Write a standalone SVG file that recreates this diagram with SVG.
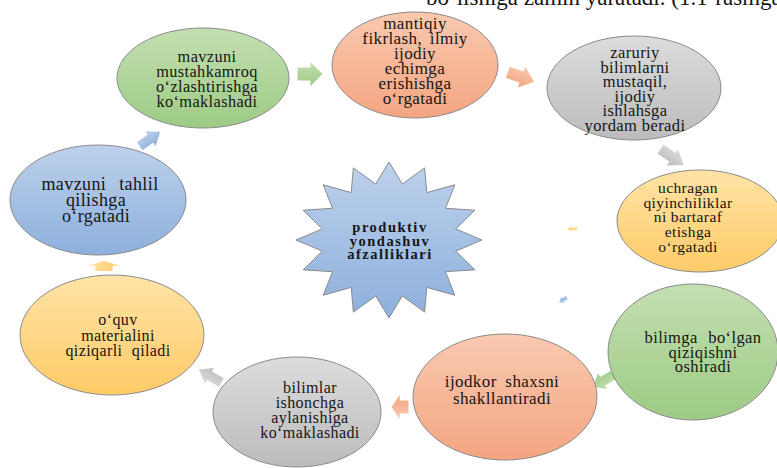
<svg xmlns="http://www.w3.org/2000/svg" width="777" height="468" viewBox="0 0 777 468">
<defs>
<linearGradient id="gGreen" x1="0" y1="0" x2="0" y2="1"><stop offset="0" stop-color="#c3dfb1"/><stop offset="1" stop-color="#9dcb85"/></linearGradient>
<linearGradient id="gSalmon" x1="0" y1="0" x2="0" y2="1"><stop offset="0" stop-color="#f9c9b0"/><stop offset="1" stop-color="#f4a581"/></linearGradient>
<linearGradient id="gGray" x1="0" y1="0" x2="0" y2="1"><stop offset="0" stop-color="#dcdcdc"/><stop offset="1" stop-color="#bcbcbc"/></linearGradient>
<linearGradient id="gYellow" x1="0" y1="0" x2="0" y2="1"><stop offset="0" stop-color="#ffe3a6"/><stop offset="1" stop-color="#ffcb68"/></linearGradient>
<linearGradient id="gBlue" x1="0" y1="0" x2="0" y2="1"><stop offset="0" stop-color="#bdd1ec"/><stop offset="1" stop-color="#8db0dc"/></linearGradient>
<path id="arr" d="M-0.5,-0.27 H0.02 V-0.5 L0.5,0 L0.02,0.5 V0.27 H-0.5 Z"/>
</defs>
<style>
.e{stroke:#8a8a8a;stroke-width:1}
.t{font-family:"Liberation Serif","Times New Roman",serif;font-size:16px;letter-spacing:0.4px;text-anchor:middle;fill:#151515}
.b{font-family:"Liberation Serif","Times New Roman",serif;font-size:14.5px;font-weight:bold;letter-spacing:1.5px;text-anchor:middle;fill:#151515}
.top{font-family:"Liberation Serif","Times New Roman",serif;font-size:23px;fill:#151515}
</style>

<text class="top" x="426" y="5">bo‘lishiga zamin yaratadi. (1.1-rasmga</text>

<g id="connectors">
<use href="#arr" fill="url(#gGreen)" transform="translate(310,74) scale(25,24)"/>
<use href="#arr" fill="url(#gSalmon)" transform="translate(521,77) rotate(20) scale(28,22)"/>
<use href="#arr" fill="url(#gGray)" transform="translate(672,157) rotate(35) scale(28,20)"/>
<use href="#arr" fill="url(#gYellow)" transform="translate(572,229) rotate(180) scale(10,5)"/>
<use href="#arr" fill="url(#gBlue)" transform="translate(563,300) rotate(150) scale(9,7)"/>
<use href="#arr" fill="url(#gGreen)" transform="translate(603,381) rotate(150) scale(24,18)"/>
<use href="#arr" fill="url(#gSalmon)" transform="translate(400,407) rotate(180) scale(17,24)"/>
<use href="#arr" fill="url(#gGray)" transform="translate(210,376) rotate(210) scale(26,18)"/>
<use href="#arr" fill="url(#gYellow)" transform="translate(104,266) rotate(-90) scale(10,32)"/>
<use href="#arr" fill="url(#gBlue)" transform="translate(150,139) rotate(-35) scale(25,18)"/>
</g>

<g id="n1">
<ellipse class="e" cx="203" cy="78" rx="86" ry="50" fill="url(#gGreen)"/>
<text class="t" style="font-size:16.3px"><tspan x="207" y="62">mavzuni</tspan><tspan x="207" y="77">mustahkamroq</tspan><tspan x="207" y="92">o‘zlashtirishga</tspan><tspan x="207" y="107">ko‘maklashadi</tspan></text>
</g>

<g id="n2">
<ellipse class="e" cx="415" cy="65" rx="83" ry="53" fill="url(#gSalmon)"/>
<text class="t" style="font-size:17px"><tspan x="415" y="29" >mantiqiy</tspan><tspan x="415" y="44" word-spacing="3">fikrlash, ilmiy</tspan><tspan x="415" y="59">ijodiy</tspan><tspan x="415" y="74">echimga</tspan><tspan x="415" y="89">erishishga</tspan><tspan x="415" y="104">o‘rgatadi</tspan></text>
</g>

<g id="n3">
<ellipse class="e" cx="634" cy="88" rx="87" ry="52" fill="url(#gGray)"/>
<text class="t" style="font-size:16.5px"><tspan x="635" y="58">zaruriy</tspan><tspan x="635" y="72.6">bilimlarni</tspan><tspan x="635" y="87.2">mustaqil,</tspan><tspan x="635" y="101.8">ijodiy</tspan><tspan x="635" y="116.4">ishlahsga</tspan><tspan x="635" y="131">yordam beradi</tspan></text>
</g>

<g id="n4">
<ellipse class="e" cx="700" cy="221" rx="83" ry="51" fill="url(#gYellow)"/>
<text class="t" style="font-size:15.5px"><tspan x="688" y="193">uchragan</tspan><tspan x="688" y="207.7">qiyinchiliklar</tspan><tspan x="688" y="222.4">ni bartaraf</tspan><tspan x="688" y="237">etishga</tspan><tspan x="688" y="251.7">o‘rgatadi</tspan></text>
</g>

<g id="n5">
<ellipse class="e" cx="693" cy="352" rx="85" ry="68" fill="url(#gGreen)"/>
<text class="t" style="font-size:16.5px"><tspan x="703" y="343" word-spacing="6">bilimga bo‘lgan</tspan><tspan x="703" y="357.5">qiziqishni</tspan><tspan x="703" y="372">oshiradi</tspan></text>
</g>

<g id="n6">
<ellipse class="e" cx="505" cy="397" rx="92" ry="63" fill="url(#gSalmon)"/>
<text class="t" style="font-size:17px"><tspan x="502" y="387" word-spacing="4">ijodkor shaxsni</tspan><tspan x="502" y="404">shakllantiradi</tspan></text>
</g>

<g id="n7">
<ellipse class="e" cx="297" cy="412" rx="84" ry="55" fill="url(#gGray)"/>
<text class="t" style="font-size:16px"><tspan x="310" y="393">bilimlar</tspan><tspan x="310" y="408">ishonchga</tspan><tspan x="310" y="423">aylanishiga</tspan><tspan x="310" y="438">ko‘maklashadi</tspan></text>
</g>

<g id="n8">
<ellipse class="e" cx="112" cy="335" rx="92" ry="60" fill="url(#gYellow)"/>
<text class="t" style="font-size:16px"><tspan x="118" y="325">o‘quv</tspan><tspan x="118" y="340.5">materialini</tspan><tspan x="118" y="356" word-spacing="5">qiziqarli qiladi</tspan></text>
</g>

<g id="n9">
<ellipse class="e" cx="98" cy="200" rx="88" ry="55" fill="url(#gBlue)"/>
<text class="t" style="font-size:18px"><tspan x="100" y="190" word-spacing="8">mavzuni tahlil</tspan><tspan x="96" y="206">qilishga</tspan><tspan x="96" y="222">o‘rgatadi</tspan></text>
</g>

<g id="center">
<polygon class="e" fill="url(#gBlue)" points="389,162 402.3,184.1 424.6,167.9 426.8,192.6 454.8,184.8 445.5,208.3 474.9,210.2 455.7,228.9 482,240 455.7,251.1 474.9,269.8 445.5,271.7 454.8,295.2 426.8,287.4 424.6,312.1 402.3,295.9 389,318 375.7,295.9 353.4,312.1 351.2,287.4 323.2,295.2 332.5,271.7 303.1,269.8 322.3,251.1 296,240 322.3,228.9 303.1,210.2 332.5,208.3 323.2,184.8 351.2,192.6 353.4,167.9 375.7,184.1"/>
<text class="b"><tspan x="390" y="232">produktiv</tspan><tspan x="390" y="245.5">yondashuv</tspan><tspan x="390" y="259">afzalliklari</tspan></text>
</g>
</svg>
